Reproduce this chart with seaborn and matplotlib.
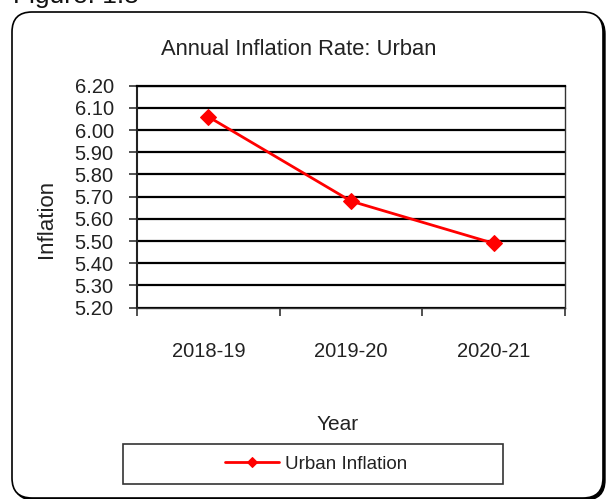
import matplotlib
matplotlib.use("Agg")
import matplotlib.pyplot as plt
from matplotlib.patches import FancyBboxPatch, Rectangle
from matplotlib.transforms import IdentityTransform
from matplotlib.ticker import FormatStrFormatter, MultipleLocator
import seaborn as sns
import pandas as pd

# ---- data ----
years = ["2018-19", "2019-20", "2020-21"]
urban_inflation = [6.06, 5.68, 5.49]
series_name = "Urban Inflation"
title_text = "Annual Inflation Rate: Urban"
caption_text = "Figure: 1.8"
x_label = "Year"
y_label = "Inflation"

sns.set_style("white")
plt.rcParams["font.family"] = ["Liberation Sans", "DejaVu Sans"]

W, H = 606, 499
fig = plt.figure(figsize=(W / 100, H / 100), dpi=100)
fig.patch.set_facecolor("white")

# outer rounded frame (with shadow), in pixel coordinates
shadow = FancyBboxPatch((14, -1), 591, 486, boxstyle="round,pad=0,rounding_size=20",
                        transform=IdentityTransform(), facecolor="black",
                        edgecolor="black", lw=1, zorder=0)
frame = FancyBboxPatch((12, 1), 591, 486, boxstyle="round,pad=0,rounding_size=20",
                       transform=IdentityTransform(), facecolor="white",
                       edgecolor="black", lw=1.2, zorder=0.5)
fig.add_artist(shadow)
fig.add_artist(frame)

# axes placed to match plot area
left, right, top, bottom = 137, 565, 85.7, 307.7
ax = fig.add_axes([left / W, 1 - bottom / H, (right - left) / W, (bottom - top) / H])
ax.set_facecolor("none")
ax.set_zorder(2)

df = pd.DataFrame({"Year": years, "Inflation": urban_inflation})
sns.lineplot(data=df, x="Year", y="Inflation", ax=ax, color="#FF0000", lw=2.0,
             marker="D", markersize=8, markeredgecolor="#FF0000",
             markerfacecolor="#FF0000", label=series_name, zorder=5)

ax.set_ylim(5.2, 6.2)
ax.set_xlim(-0.5, len(years) - 0.5)
ax.yaxis.set_major_locator(MultipleLocator(0.1))
ax.yaxis.set_major_formatter(FormatStrFormatter("%.2f"))
ax.grid(axis="y", color="black", lw=1.6, zorder=1)
ax.grid(axis="x", visible=False)
ax.set_axisbelow(True)

# x ticks: boundaries as tick marks, labels at category centers
ax.set_xticks([i - 0.5 for i in range(len(years) + 1)])
ax.set_xticklabels([""] * (len(years) + 1))
ax.set_xticks(list(range(len(years))), minor=True)
ax.set_xticklabels(years, minor=True)
ax.tick_params(axis="x", which="major", direction="out", length=5.5, width=1.2,
               color="#333333", bottom=True)
ax.tick_params(axis="x", which="minor", length=0, pad=25, labelsize=14.5,
               labelcolor="#222222")
ax.tick_params(axis="y", which="major", direction="out", length=5.8, width=1.2,
               color="#333333", left=True, pad=11, labelsize=14.5,
               labelcolor="#222222")

for s in ["left"]:
    ax.spines[s].set_color("#222222")
    ax.spines[s].set_linewidth(1.5)
ax.spines["top"].set_color("black")
ax.spines["top"].set_linewidth(1.6)
ax.spines["right"].set_color("#333333")
ax.spines["right"].set_linewidth(1.0)
ax.spines["bottom"].set_color("#333333")
ax.spines["bottom"].set_linewidth(1.0)

ax.set_xlabel("")
ax.set_ylabel("")

# texts
fig.text(299 / W, 1 - 55 / H, title_text, ha="center", va="baseline",
         fontsize=15.8, color="#222222")
fig.text(13 / W, 1 - 3.5 / H, caption_text, ha="left", va="baseline",
         fontsize=19, color="#111111")
fig.text(338 / W, 1 - 430 / H, x_label, ha="center", va="baseline",
         fontsize=15, color="#222222")
fig.text(47 / W, 1 - 218.5 / H, y_label, ha="center", va="center",
         rotation=90, fontsize=16, color="#222222")

# legend box and legend
fig.add_artist(Rectangle((123, H - 484), 380, 40, transform=IdentityTransform(),
                         facecolor="white", edgecolor="#333333", lw=1.2, zorder=1))
leg = ax.legend(loc="center", bbox_to_anchor=(316 / W, 1 - 464 / H),
                bbox_transform=fig.transFigure, frameon=False, fontsize=13.5,
                handlelength=2.9, handletextpad=0.3, markerscale=0.6,
                borderpad=0, borderaxespad=0)
for t in leg.get_texts():
    t.set_color("#222222")

fig.savefig("out.png", dpi=100, facecolor="white")
